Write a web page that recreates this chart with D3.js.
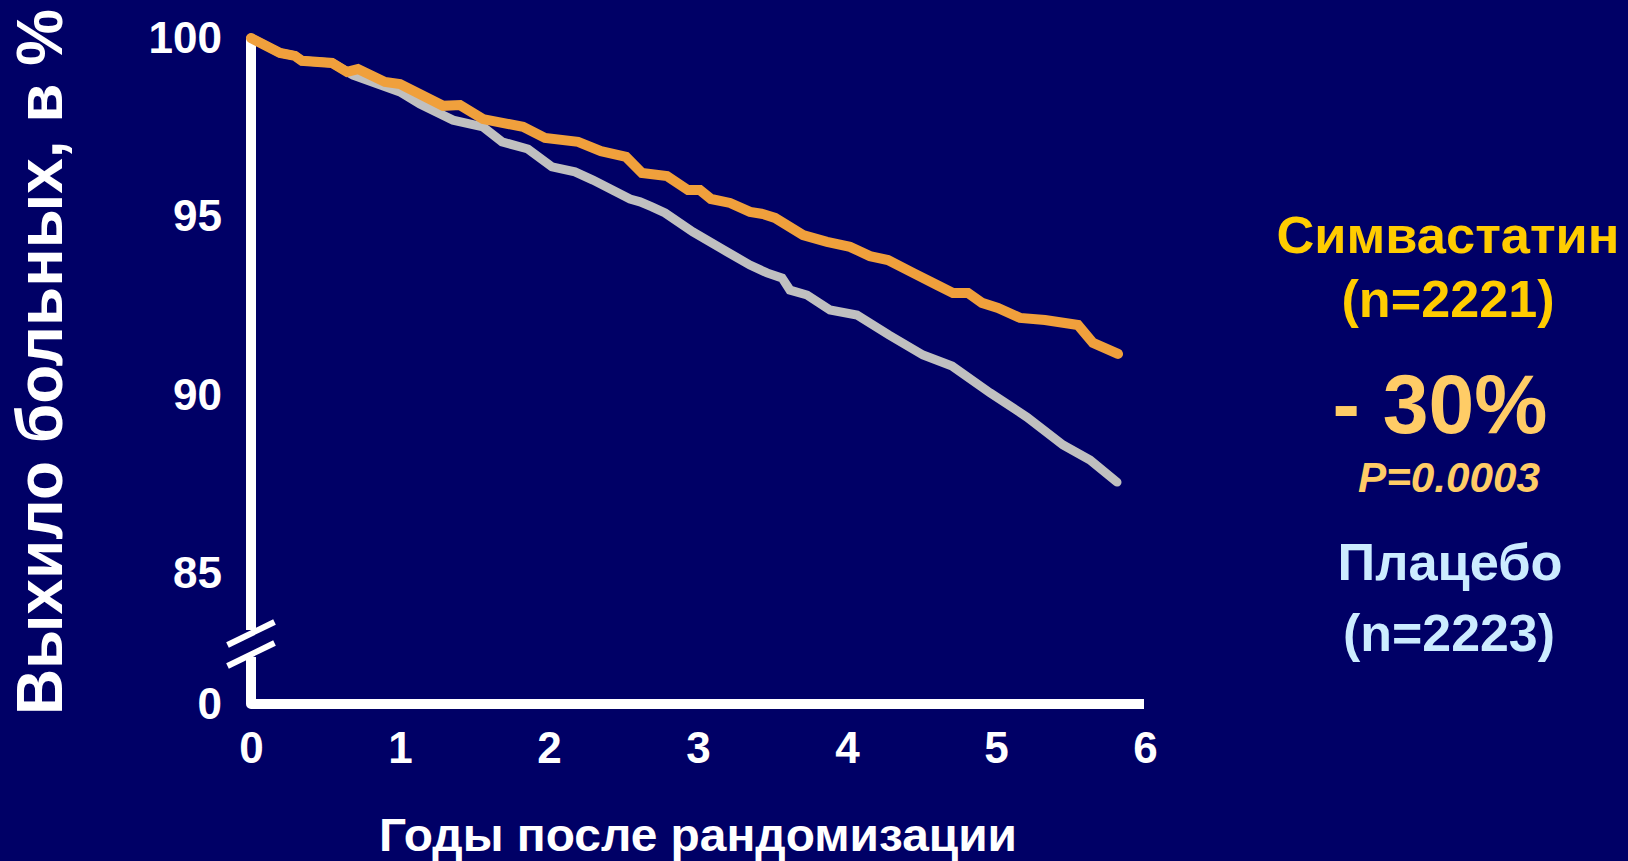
<!DOCTYPE html>
<html>
<head>
<meta charset="utf-8">
<script src="https://cdn.jsdelivr.net/npm/d3@7"></script>
<style>
  html, body { margin: 0; padding: 0; background: #000066; }
  svg { display: block; }
  text { font-family: "Liberation Sans", Arial, sans-serif; font-weight: bold; }
</style>
</head>
<body>
<svg id="chart" width="1628" height="861"></svg>
<script>
// Survival curves: years after randomisation vs. % of patients alive
const simvaYears = [0, 0.195, 0.295, 0.342, 0.544, 0.644, 0.718, 0.899, 1.0, 1.289, 1.403, 1.557, 1.826, 1.973, 2.195, 2.349, 2.517, 2.624, 2.792, 2.933, 3.013, 3.087, 3.215, 3.349, 3.436, 3.517, 3.705, 3.866, 4.02, 4.154, 4.275, 4.443, 4.604, 4.711, 4.812, 4.906, 5.013, 5.161, 5.329, 5.55, 5.651, 5.819];
const simvaSurvival = [100, 99.58, 99.5, 99.36, 99.3, 99.05, 99.13, 98.77, 98.71, 98.1, 98.12, 97.73, 97.51, 97.2, 97.09, 96.83, 96.67, 96.22, 96.13, 95.74, 95.74, 95.49, 95.38, 95.13, 95.07, 94.96, 94.48, 94.29, 94.15, 93.89, 93.78, 93.42, 93.08, 92.86, 92.86, 92.58, 92.44, 92.16, 92.1, 91.96, 91.46, 91.15];

const placeboYears = [0, 0.195, 0.295, 0.342, 0.544, 0.685, 1.0, 1.134, 1.356, 1.557, 1.685, 1.859, 2.02, 2.174, 2.295, 2.544, 2.611, 2.691, 2.779, 2.966, 3.161, 3.349, 3.463, 3.564, 3.617, 3.732, 3.886, 4.067, 4.282, 4.51, 4.705, 4.96, 5.208, 5.45, 5.631, 5.812];
const placeboSurvival = [100, 99.58, 99.5, 99.36, 99.3, 98.96, 98.49, 98.15, 97.7, 97.51, 97.09, 96.89, 96.39, 96.25, 96.02, 95.49, 95.41, 95.27, 95.1, 94.57, 94.09, 93.64, 93.42, 93.28, 92.94, 92.8, 92.38, 92.24, 91.68, 91.12, 90.81, 90.06, 89.38, 88.6, 88.18, 87.56];

const xTicks = [0, 1, 2, 3, 4, 5, 6];
const yTicks = [85, 90, 95, 100];
const yBreakTicks = [0];

const xTitle = "Годы после рандомизации";
const yTitle = "Выхило больных, в %";
const legendLines = [
  { text: "Симвастатин", color: "#FFCC00", size: 52, width: 343, x: 1448, y: 253, italic: false },
  { text: "(n=2221)",    color: "#FFCC00", size: 52, width: 213, x: 1448, y: 317, italic: false },
  { text: "- 30%",       color: "#FFCC66", size: 84, width: 215, x: 1440, y: 433, italic: false },
  { text: "P=0.0003",    color: "#FFCC66", size: 42, width: 182, x: 1449, y: 492, italic: true },
  { text: "Плацебо",     color: "#CCECFF", size: 52, width: 225, x: 1450, y: 580, italic: false },
  { text: "(n=2223)",    color: "#CCECFF", size: 52, width: 212, x: 1449, y: 651, italic: false }
];

const svg = d3.select("#chart");
svg.append("rect").attr("width", 1628).attr("height", 861).attr("fill", "#000066");

const x = d3.scaleLinear().domain([0, 6]).range([251, 1145]);
const y = d3.scaleLinear().domain([85, 100]).range([573.5, 38]);
// the broken part of the axis: only the zero is shown, on the x-axis level
const xAxisY = 704;
const yBreak = d3.scaleLinear().domain([0, 1]).range([xAxisY, xAxisY - 10]);

// axes lines with a break between 85 and 0
const axisG = svg.append("g").attr("fill", "none").attr("stroke", "#FFFFFF");
const x0 = x(0);
axisG.append("path")
  .attr("d", `M${x0},${y(100) - 1} L${x0},630`)
  .attr("stroke-width", 10);
axisG.append("path")
  .attr("d", `M${x0},657 L${x0},${xAxisY} L${x.range()[1] - 1},${xAxisY}`)
  .attr("stroke-width", 10)
  .attr("stroke-linejoin", "round");
[633.5, 654.5].forEach(cy => {
  axisG.append("line")
    .attr("x1", x0 - 23.5).attr("y1", cy + 11.5)
    .attr("x2", x0 + 23.5).attr("y2", cy - 11.5)
    .attr("stroke-width", 6);
});

function styleAxis(g) {
  g.select(".domain").remove();
  g.selectAll("text")
    .attr("fill", "#FFFFFF")
    .style("font-family", "'Liberation Sans', Arial, sans-serif")
    .style("font-weight", "bold")
    .style("font-size", "44px");
}

svg.append("g")
  .attr("transform", `translate(${x0},0)`)
  .call(d3.axisLeft(y).tickValues(yTicks).tickSize(0).tickPadding(29).tickFormat(d3.format("d")))
  .call(styleAxis);

svg.append("g")
  .attr("transform", `translate(${x0},0)`)
  .call(d3.axisLeft(yBreak).tickValues(yBreakTicks).tickSize(0).tickPadding(29).tickFormat(d3.format("d")))
  .call(styleAxis);

svg.append("g")
  .attr("transform", `translate(0,${xAxisY})`)
  .call(d3.axisBottom(x).tickValues(xTicks).tickSize(0).tickPadding(28).tickFormat(d3.format("d")))
  .call(styleAxis);

// survival curves
const line = d3.line().x(d => x(d[0])).y(d => y(d[1]));
const placebo = placeboYears.map((t, i) => [t, placeboSurvival[i]]);
const simva = simvaYears.map((t, i) => [t, simvaSurvival[i]]);

svg.append("path")
  .datum(placebo)
  .attr("d", line)
  .attr("fill", "none")
  .attr("stroke", "#C0C0C0")
  .attr("stroke-width", 9)
  .attr("stroke-linecap", "round")
  .attr("stroke-linejoin", "miter");

svg.append("path")
  .datum(simva)
  .attr("d", line)
  .attr("fill", "none")
  .attr("stroke", "#F0A03C")
  .attr("stroke-width", 10)
  .attr("stroke-linecap", "round")
  .attr("stroke-linejoin", "miter");

// axis titles
svg.append("text")
  .attr("x", 698).attr("y", 851)
  .attr("text-anchor", "middle")
  .attr("fill", "#FFFFFF")
  .attr("font-size", 46)
  .attr("textLength", 638)
  .attr("lengthAdjust", "spacingAndGlyphs")
  .text(xTitle);

svg.append("text")
  .attr("transform", "translate(62,362) rotate(-90)")
  .attr("text-anchor", "middle")
  .attr("fill", "#FFFFFF")
  .attr("font-size", 64)
  .attr("textLength", 706)
  .attr("lengthAdjust", "spacingAndGlyphs")
  .text(yTitle);

// result block beside the chart
const legendG = svg.append("g");
legendLines.forEach(l => {
  legendG.append("text")
    .attr("x", l.x).attr("y", l.y)
    .attr("text-anchor", "middle")
    .attr("fill", l.color)
    .attr("font-size", l.size)
    .attr("font-style", l.italic ? "italic" : "normal")
    .attr("textLength", l.width)
    .attr("lengthAdjust", "spacingAndGlyphs")
    .text(l.text);
});
</script>
</body>
</html>
